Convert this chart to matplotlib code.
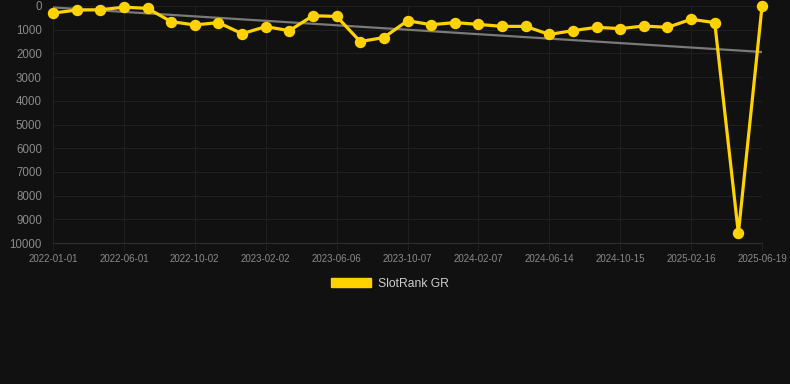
import numpy as np
import matplotlib
matplotlib.use("Agg")
import matplotlib.pyplot as plt
from matplotlib.patches import Patch

# rank values, one point roughly every 40 days
ranks = [300, 170, 160, 50, 100, 660, 800, 700, 1170, 870, 1040, 410, 440,
         1500, 1330, 620, 790, 700, 775, 860, 860, 1200, 1040, 900, 955,
         845, 900, 563, 700, 9590, 20]
tick_labels = ['2022-01-01', '2022-06-01', '2022-10-02', '2023-02-02',
               '2023-06-06', '2023-10-07', '2024-02-07', '2024-06-14',
               '2024-10-15', '2025-02-16', '2025-06-19']
tick_step = 3
series_name = 'SlotRank GR'

bg = '#111111'
gold = '#FFD200'
grid_col = '#1f1f1f'
text_col = '#8a8a8a'

plt.rcParams['font.family'] = ['Liberation Sans', 'DejaVu Sans']

x = np.arange(len(ranks))
y = np.array(ranks, dtype=float)

# linear trend over the whole series
k, b = np.polyfit(x, y, 1)
trend = k * x + b

fig = plt.figure(figsize=(7.9, 3.84), dpi=100, facecolor=bg)
ax = fig.add_axes([53 / 790, 1 - 243 / 384, 709 / 790, 237 / 384])
ax.set_facecolor(bg)

ax.plot(x, trend, color='#7a7a7a', lw=1.6, zorder=2)
ax.plot(x, y, color=gold, lw=2.3, marker='o', ms=7.2, clip_on=False,
        solid_joinstyle='miter', zorder=3)

ax.set_xlim(0, len(ranks) - 1)
ax.set_ylim(10000, 0)
ax.set_yticks(np.arange(0, 10001, 1000))
ax.set_xticks(x[::tick_step])
ax.set_xticklabels(tick_labels)

ax.grid(True, color=grid_col, lw=0.8)
ax.set_axisbelow(True)
for s in ['top', 'right', 'left']:
    ax.spines[s].set_visible(False)
ax.spines['bottom'].set_color('#2e2e2e')

ax.tick_params(axis='y', colors=text_col, labelsize=8.3, length=0, pad=8)
ax.tick_params(axis='x', colors=grid_col, labelcolor=text_col, labelsize=7,
               length=5, pad=3)

handle = Patch(facecolor=gold, edgecolor=gold)
leg = fig.legend([handle], [series_name], loc='center',
                 bbox_to_anchor=(390 / 790, 1 - 284 / 384), frameon=False,
                 fontsize=8.7, handlelength=3.3, handleheight=0.8,
                 handletextpad=0.55)
for t in leg.get_texts():
    t.set_color('#cccccc')

fig.savefig('out.png', dpi=100, facecolor=bg)
